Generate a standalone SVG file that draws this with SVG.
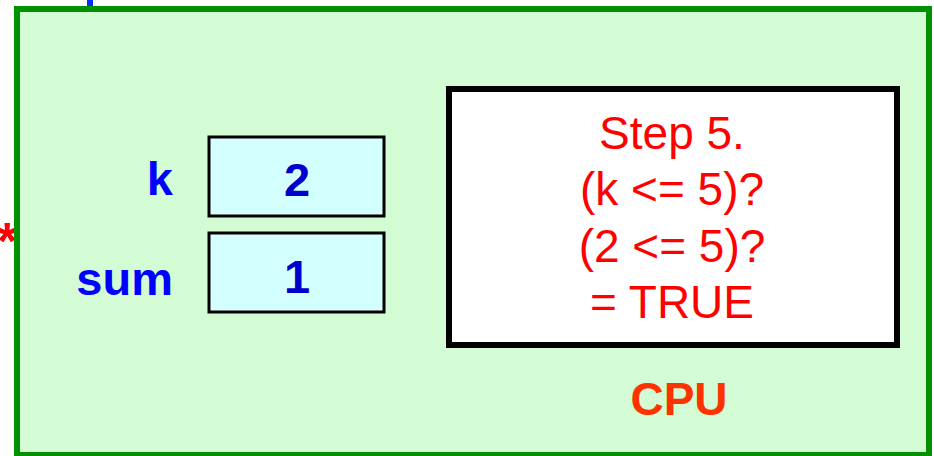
<svg xmlns="http://www.w3.org/2000/svg" width="934" height="456" viewBox="0 0 934 456">
  <style>
    .lbl { font-family: "Liberation Sans", Arial, sans-serif; font-weight: bold; fill: #0000ff; font-size: 47px; }
    .val { font-family: "Liberation Sans", Arial, sans-serif; font-weight: bold; fill: #0000cc; font-size: 47px; text-anchor: middle; }
    .cell { fill: #d4ffff; stroke: #000000; stroke-width: 3; }
    .step { font-family: "Liberation Sans", Arial, sans-serif; fill: #ff0000; font-size: 46px; text-anchor: middle; }
  </style>
  <rect width="934" height="456" fill="#ffffff"/>

  <!-- fragment peeking above the panel -->
  <rect x="87" y="0" width="6" height="7" fill="#0033ff"/>

  <!-- marker on the left margin -->
  <text x="7" y="259" font-family="Liberation Sans, Arial, sans-serif" font-weight="bold" font-size="52" fill="#ff0000" text-anchor="middle">*</text>

  <!-- CPU panel -->
  <g id="cpu">
    <rect x="17" y="9" width="912" height="446" fill="#d4fcd4" stroke="#009000" stroke-width="6"/>
    <text x="679" y="415" font-family="Liberation Sans, Arial, sans-serif" font-weight="bold" font-size="46" fill="#ff3300" text-anchor="middle">CPU</text>
  </g>

  <!-- variable k -->
  <g id="var-k">
    <text class="lbl" x="173" y="195" text-anchor="end">k</text>
    <rect class="cell" x="209" y="137" width="175" height="79"/>
    <text class="val" x="297" y="196">2</text>
  </g>

  <!-- variable sum -->
  <g id="var-sum">
    <text class="lbl" x="173" y="295" text-anchor="end">sum</text>
    <rect class="cell" x="209" y="233" width="175" height="79"/>
    <text class="val" x="297" y="293">1</text>
  </g>

  <!-- step description -->
  <g id="step">
    <rect x="449" y="89" width="448" height="256" fill="#ffffff" stroke="#000000" stroke-width="6"/>
    <text class="step" x="672" y="149">Step 5.</text>
    <text class="step" x="672" y="205">(k &lt;= 5)?</text>
    <text class="step" x="672" y="262">(2 &lt;= 5)?</text>
    <text class="step" x="672" y="318">= TRUE</text>
  </g>

  <g id="connectors"/>
</svg>
